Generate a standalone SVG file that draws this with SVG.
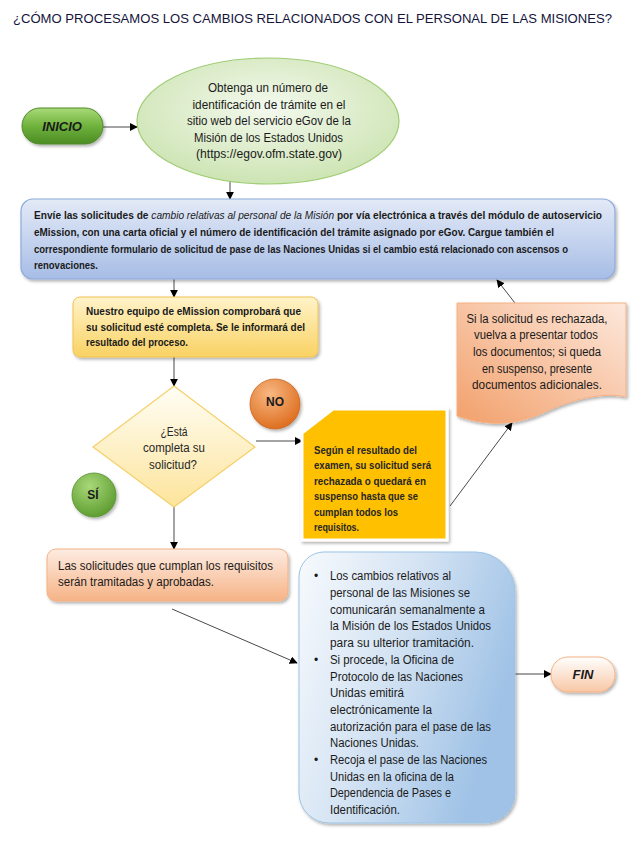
<svg xmlns="http://www.w3.org/2000/svg" width="631" height="845" viewBox="0 0 631 845">
<style>
  .t { font-family: "Liberation Sans", Arial, sans-serif; fill: #1a1a1a; }
  .b { font-weight: bold; }
  .bs { font-size: 10px; font-weight: bold; }
  .r12 { font-size: 12px; }
  .conn { stroke: #1a1a1a; stroke-width: 0.8; fill: none; }
</style>
<defs>
  <marker id="arr" viewBox="0 0 10 10" refX="9" refY="5" markerWidth="8" markerHeight="8" markerUnits="userSpaceOnUse" orient="auto">
    <path d="M0,0 L10,5 L0,10 Z" fill="#000"/>
  </marker>
  <filter id="sh" x="-10%" y="-10%" width="125%" height="130%">
    <feDropShadow dx="1.5" dy="2" stdDeviation="1.5" flood-color="#000" flood-opacity="0.3"/>
  </filter>
  <linearGradient id="gInicio" x1="0" y1="0" x2="0" y2="1">
    <stop offset="0" stop-color="#a9da78"/>
    <stop offset="0.5" stop-color="#6fb23c"/>
    <stop offset="1" stop-color="#4c8c25"/>
  </linearGradient>
  <radialGradient id="gEll" cx="0.5" cy="0.4" r="0.6">
    <stop offset="0" stop-color="#f4f9ee"/>
    <stop offset="1" stop-color="#cde4b3"/>
  </radialGradient>
  <linearGradient id="gBlue" x1="0" y1="0" x2="0" y2="1">
    <stop offset="0" stop-color="#e3eaf7"/>
    <stop offset="1" stop-color="#a7bde6"/>
  </linearGradient>
  <linearGradient id="gYel" x1="0" y1="0" x2="0" y2="1">
    <stop offset="0" stop-color="#fff3c9"/>
    <stop offset="1" stop-color="#f9d263"/>
  </linearGradient>
  <linearGradient id="gDia" x1="0" y1="0" x2="0" y2="1">
    <stop offset="0" stop-color="#fffef6"/>
    <stop offset="1" stop-color="#fde49b"/>
  </linearGradient>
  <radialGradient id="gNo" cx="0.4" cy="0.3" r="0.75">
    <stop offset="0" stop-color="#f7b883"/>
    <stop offset="1" stop-color="#dd6a1a"/>
  </radialGradient>
  <radialGradient id="gSi" cx="0.4" cy="0.3" r="0.75">
    <stop offset="0" stop-color="#a9d879"/>
    <stop offset="1" stop-color="#5a9a2d"/>
  </radialGradient>
  <linearGradient id="gDoc" x1="1" y1="0" x2="0" y2="1">
    <stop offset="0" stop-color="#fde8dc"/>
    <stop offset="1" stop-color="#f2a06b"/>
  </linearGradient>
  <linearGradient id="gSal" x1="0" y1="0" x2="0" y2="1">
    <stop offset="0" stop-color="#fdece2"/>
    <stop offset="1" stop-color="#f6b386"/>
  </linearGradient>
  <linearGradient id="gBig" x1="0" y1="0" x2="1" y2="0.4">
    <stop offset="0" stop-color="#f7fafd"/>
    <stop offset="0.5" stop-color="#d4e3f3"/>
    <stop offset="1" stop-color="#9fc2e6"/>
  </linearGradient>
  <linearGradient id="gFin" x1="0" y1="0" x2="0" y2="1">
    <stop offset="0" stop-color="#ffffff"/>
    <stop offset="1" stop-color="#f8c7a5"/>
  </linearGradient>
</defs>

<rect width="631" height="845" fill="#ffffff"/>

<text class="t" x="13" y="23" font-size="13" textLength="599" lengthAdjust="spacingAndGlyphs" style="fill:#14143c">¿CÓMO PROCESAMOS LOS CAMBIOS RELACIONADOS CON EL PERSONAL DE LAS MISIONES?</text>

<g id="connectors">
  <line class="conn" x1="103" y1="127" x2="137" y2="127" marker-end="url(#arr)" stroke="#555"/>
  <line class="conn" x1="230" y1="182" x2="230" y2="199" marker-end="url(#arr)"/>
  <line class="conn" x1="174" y1="279" x2="174" y2="297" marker-end="url(#arr)"/>
  <line class="conn" x1="174" y1="357" x2="174" y2="386" marker-end="url(#arr)"/>
  <line class="conn" x1="256" y1="441" x2="302" y2="441" marker-end="url(#arr)"/>
  <line class="conn" x1="174" y1="507" x2="174" y2="549" marker-end="url(#arr)"/>
  <line class="conn" x1="450" y1="506" x2="512" y2="423" marker-end="url(#arr)"/>
  <line class="conn" x1="515" y1="303" x2="497" y2="280" marker-end="url(#arr)"/>
  <line class="conn" x1="172" y1="609" x2="297" y2="663" marker-end="url(#arr)"/>
  <line class="conn" x1="515" y1="674" x2="551" y2="674" marker-end="url(#arr)"/>
</g>

<g id="inicio">
  <rect x="22" y="108" width="81" height="36" rx="18" fill="url(#gInicio)" stroke="#4f8a2a" stroke-width="1" filter="url(#sh)"/>
  <text class="t b" x="62" y="131" font-size="13" font-style="italic" text-anchor="middle">INICIO</text>
</g>

<g id="obtenga">
  <ellipse cx="268" cy="121" rx="131" ry="63" fill="url(#gEll)" stroke="#9fcc74" stroke-width="1.2"/>
  <g class="t r12" text-anchor="middle">
    <text x="268" y="92" textLength="120" lengthAdjust="spacingAndGlyphs">Obtenga un número de</text>
    <text x="269" y="108.5" textLength="153" lengthAdjust="spacingAndGlyphs">identificación de trámite en el</text>
    <text x="269" y="125" textLength="164" lengthAdjust="spacingAndGlyphs">sitio web del servicio eGov de la</text>
    <text x="268.5" y="141.5" textLength="149" lengthAdjust="spacingAndGlyphs">Misión de los Estados Unidos</text>
    <text x="269" y="158" textLength="146" lengthAdjust="spacingAndGlyphs">(https://egov.ofm.state.gov)</text>
  </g>
</g>

<g id="envie">
  <rect x="21" y="199" width="594" height="80" rx="12" fill="url(#gBlue)" stroke="#8eaadb" stroke-width="1.2" filter="url(#sh)"/>
  <g class="t bs">
    <text x="34" y="219" textLength="568" lengthAdjust="spacingAndGlyphs">Envíe las solicitudes de <tspan font-style="italic" font-weight="normal">cambio relativas al personal de la Misión</tspan> por vía electrónica a través del módulo de autoservicio</text>
    <text x="34" y="236" textLength="520" lengthAdjust="spacingAndGlyphs">eMission, con una carta oficial y el número de identificación del trámite asignado por eGov. Cargue también el</text>
    <text x="34" y="253" textLength="534" lengthAdjust="spacingAndGlyphs">correspondiente formulario de solicitud de pase de las Naciones Unidas si el cambio está relacionado con ascensos o</text>
    <text x="34" y="269" textLength="64" lengthAdjust="spacingAndGlyphs">renovaciones.</text>
  </g>
</g>

<g id="comprobara">
  <rect x="73" y="297" width="245" height="60" rx="7" fill="url(#gYel)" stroke="#f0c24f" stroke-width="1" filter="url(#sh)"/>
  <g class="t bs">
    <text x="86" y="315" textLength="215" lengthAdjust="spacingAndGlyphs">Nuestro equipo de eMission comprobará que</text>
    <text x="86" y="331" textLength="219" lengthAdjust="spacingAndGlyphs">su solicitud esté completa. Se le informará del</text>
    <text x="86" y="346" textLength="102" lengthAdjust="spacingAndGlyphs">resultado del proceso.</text>
  </g>
</g>

<g id="decision">
  <polygon points="174,386 255,447 174,507 93,447" fill="url(#gDia)" stroke="#f4d06a" stroke-width="1.2"/>
  <g class="t r12" text-anchor="middle" style="fill:#262626">
    <text x="174" y="435.5" textLength="27" lengthAdjust="spacingAndGlyphs">¿Está</text>
    <text x="174" y="452" textLength="62" lengthAdjust="spacingAndGlyphs">completa su</text>
    <text x="173" y="468.5" textLength="48" lengthAdjust="spacingAndGlyphs">solicitud?</text>
  </g>
</g>

<g id="no">
  <circle cx="275" cy="404" r="25" fill="url(#gNo)" stroke="#c9641f" stroke-width="0.8" filter="url(#sh)"/>
  <text class="t b" x="275" y="406" font-size="12" text-anchor="middle">NO</text>
</g>

<g id="si">
  <circle cx="94" cy="495" r="22" fill="url(#gSi)" stroke="#558f2b" stroke-width="0.8" filter="url(#sh)"/>
  <text class="t b" x="93" y="499" font-size="12" text-anchor="middle">SÍ</text>
</g>

<g id="resultado">
  <polygon points="333,409 447,409 447,540 302,540 302,433" fill="#ffc000" stroke="#ffffff" stroke-width="3" stroke-linejoin="miter" filter="url(#sh)"/>
  <g class="t bs" style="fill:#262626">
    <text x="314" y="453.5" textLength="103" lengthAdjust="spacingAndGlyphs">Según el resultado del</text>
    <text x="314" y="469" textLength="117" lengthAdjust="spacingAndGlyphs">examen, su solicitud será</text>
    <text x="314" y="484.5" textLength="112" lengthAdjust="spacingAndGlyphs">rechazada o quedará en</text>
    <text x="314" y="500" textLength="104" lengthAdjust="spacingAndGlyphs">suspenso hasta que se</text>
    <text x="314" y="515.5" textLength="84" lengthAdjust="spacingAndGlyphs">cumplan todos los</text>
    <text x="314" y="531" textLength="45" lengthAdjust="spacingAndGlyphs">requisitos.</text>
  </g>
</g>

<g id="rechazada">
  <path d="M457,303 H626 V397 C605,392 575,398 545,412 C520,424 490,428 457,416 Z" fill="url(#gDoc)" stroke="#f4b183" stroke-width="1" filter="url(#sh)"/>
  <g class="t r12" text-anchor="middle">
    <text x="537" y="322.5" textLength="141" lengthAdjust="spacingAndGlyphs">Si la solicitud es rechazada,</text>
    <text x="536" y="339" textLength="124" lengthAdjust="spacingAndGlyphs">vuelva a presentar todos</text>
    <text x="537" y="356" textLength="128" lengthAdjust="spacingAndGlyphs">los documentos; si queda</text>
    <text x="537" y="372.5" textLength="110" lengthAdjust="spacingAndGlyphs">en suspenso, presente</text>
    <text x="537" y="389" textLength="130" lengthAdjust="spacingAndGlyphs">documentos adicionales.</text>
  </g>
</g>

<g id="tramitadas">
  <rect x="47" y="549" width="241" height="52" rx="9" fill="url(#gSal)" stroke="#f4b183" stroke-width="1" filter="url(#sh)"/>
  <g class="t r12">
    <text x="58" y="570" textLength="215" lengthAdjust="spacingAndGlyphs">Las solicitudes que cumplan los requisitos</text>
    <text x="58" y="586" textLength="156" lengthAdjust="spacingAndGlyphs">serán tramitadas y aprobadas.</text>
  </g>
</g>

<g id="comunicacion">
  <path d="M324,552 H475 A40,40 0 0 1 515,592 V793 A30,30 0 0 1 485,823 H329 A30,30 0 0 1 299,793 V577 A25,25 0 0 1 324,552 Z" fill="url(#gBig)" stroke="#9dc3e6" stroke-width="1" filter="url(#sh)"/>
  <g class="t r12">
    <text x="314" y="579.5">•</text>
    <text x="314" y="663.5">•</text>
    <text x="314" y="763.5">•</text>
    <text x="330" y="579.5" textLength="121" lengthAdjust="spacingAndGlyphs">Los cambios relativos al</text>
    <text x="330" y="596.5" textLength="140" lengthAdjust="spacingAndGlyphs">personal de las Misiones se</text>
    <text x="330" y="613.5" textLength="155" lengthAdjust="spacingAndGlyphs">comunicarán semanalmente a</text>
    <text x="330" y="630" textLength="161" lengthAdjust="spacingAndGlyphs">la Misión de los Estados Unidos</text>
    <text x="330" y="646.5" textLength="144" lengthAdjust="spacingAndGlyphs">para su ulterior tramitación.</text>
    <text x="330" y="663.5" textLength="124" lengthAdjust="spacingAndGlyphs">Si procede, la Oficina de</text>
    <text x="330" y="680.5" textLength="133" lengthAdjust="spacingAndGlyphs">Protocolo de las Naciones</text>
    <text x="330" y="697" textLength="74" lengthAdjust="spacingAndGlyphs">Unidas emitirá</text>
    <text x="330" y="713.5" textLength="102" lengthAdjust="spacingAndGlyphs">electrónicamente la</text>
    <text x="330" y="730.5" textLength="161" lengthAdjust="spacingAndGlyphs">autorización para el pase de las</text>
    <text x="330" y="747" textLength="89" lengthAdjust="spacingAndGlyphs">Naciones Unidas.</text>
    <text x="330" y="763.5" textLength="157" lengthAdjust="spacingAndGlyphs">Recoja el pase de las Naciones</text>
    <text x="330" y="780.5" textLength="124" lengthAdjust="spacingAndGlyphs">Unidas en la oficina de la</text>
    <text x="330" y="797" textLength="121" lengthAdjust="spacingAndGlyphs">Dependencia de Pases e</text>
    <text x="330" y="813.5" textLength="70" lengthAdjust="spacingAndGlyphs">Identificación.</text>
  </g>
</g>

<g id="fin">
  <rect x="551" y="657" width="64" height="35" rx="17" fill="url(#gFin)" stroke="#f4b183" stroke-width="1" filter="url(#sh)"/>
  <text class="t b" x="583" y="679" font-size="13" font-style="italic" text-anchor="middle">FIN</text>
</g>
</svg>
